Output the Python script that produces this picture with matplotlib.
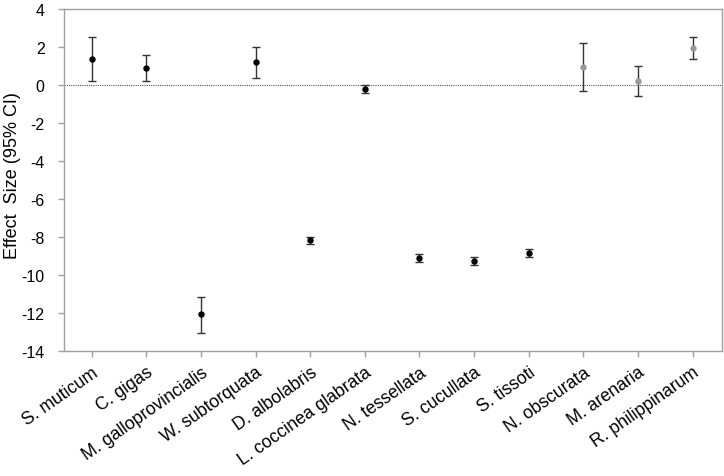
import matplotlib
matplotlib.use("Agg")
import matplotlib.pyplot as plt
import numpy as np

plt.rcParams['font.family'] = ['Liberation Sans', 'DejaVu Sans']
plt.rcParams['axes.unicode_minus'] = False

species = ["S. muticum", "C. gigas", "M. galloprovincialis", "W. subtorquata",
           "D. albolabris", "L. coccinea glabrata", "N. tessellata", "S. cucullata",
           "S. tissoti", "N. obscurata", "M. arenaria", "R. philippinarum"]
effect = [1.34, 0.87, -12.08, 1.17, -8.17, -0.24, -9.13, -9.25, -8.83, 0.90, 0.20, 1.92]
ci_upper = [2.48, 1.57, -11.15, 1.99, -8.01, -0.01, -8.92, -9.06, -8.66, 2.20, 0.99, 2.50]
ci_lower = [0.17, 0.17, -13.08, 0.34, -8.38, -0.45, -9.32, -9.48, -9.06, -0.36, -0.59, 1.36]
grey_group = [False] * 9 + [True] * 3

fig = plt.figure(figsize=(7.24, 4.77), dpi=100)
ax = fig.add_axes([64 / 724, 1 - 352 / 477, (722 - 64) / 724, (352 - 9.5) / 477])

x = np.arange(len(species))
eff = np.array(effect)
up = np.array(ci_upper)
lo = np.array(ci_lower)

ax.axhline(0, color='#555555', linestyle=(0, (1, 1.0)), linewidth=0.8, zorder=1)

for i in range(len(species)):
    mc = '#999999' if grey_group[i] else 'black'
    ax.errorbar(x[i], eff[i], yerr=[[eff[i] - lo[i]], [up[i] - eff[i]]],
                fmt='o', color=mc, markersize=3.6, ecolor='#333333',
                elinewidth=1.0, capsize=2.7, capthick=1.0, zorder=3)

ax.set_xlim(-0.51, 11.54)
ax.set_ylim(-14, 4)
ax.set_yticks(np.arange(-14, 5, 2))
ax.set_xticks(x)
ax.set_xticklabels(species, rotation=35, ha='right', va='top',
                   rotation_mode='anchor', fontsize=12.7)
for lab in ax.get_yticklabels():
    lab.set_fontsize(11.5)

for s in ax.spines.values():
    s.set_color('#a0a0a0')
    s.set_linewidth(1.0)
ax.tick_params(axis='both', direction='out', length=4, color='#a0a0a0', width=1.0)
ax.tick_params(axis='y', pad=10)
ax.tick_params(axis='x', pad=5)

ax.set_ylabel("Effect  Size (95% CI)", fontsize=13)
ax.yaxis.set_label_coords(-0.066, 0.514)

fig.savefig("out.png", dpi=100)
